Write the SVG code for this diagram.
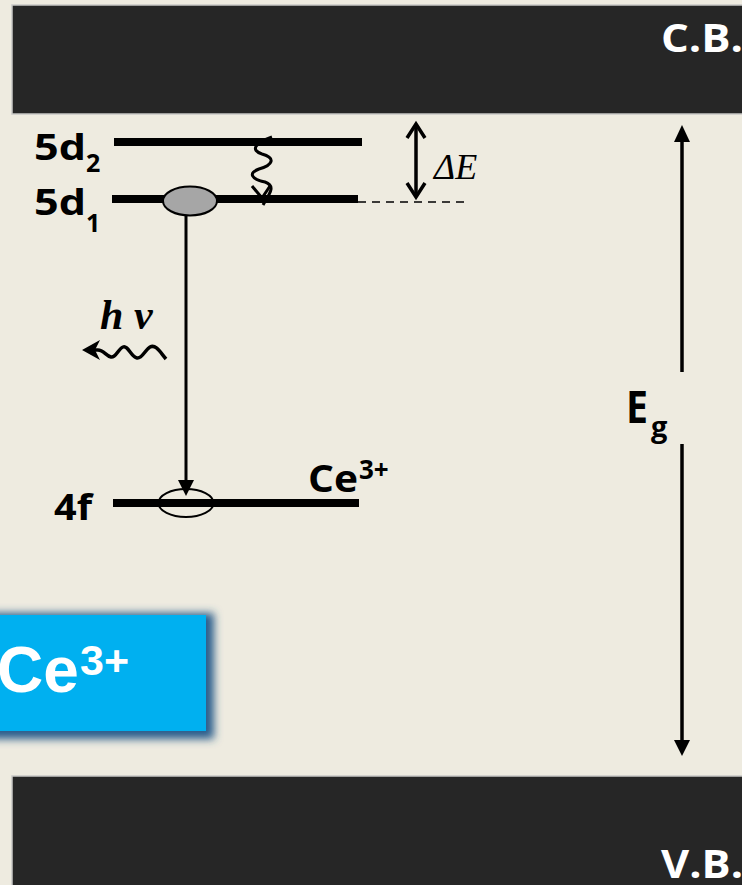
<svg xmlns="http://www.w3.org/2000/svg" width="742" height="885" viewBox="0 0 742 885">
<style>
.band{fill:#262626;stroke:#c9c9c6;stroke-width:1.5}
.bandtxt{font-family:"Open Sans","Noto Sans",sans-serif;font-weight:700;fill:#ffffff;font-size:40px}
.lvl{stroke:#000;stroke-width:8;fill:none}
.lbl{font-family:"Open Sans","Noto Sans",sans-serif;font-weight:700;fill:#000}
.ln{stroke:#000;stroke-width:3.5;fill:none}
.thin{stroke:#000;stroke-width:3;fill:none}
.serif{font-family:"Liberation Serif","DejaVu Serif",serif;font-style:italic;fill:#000}
</style>
<defs>
<filter id="sh" x="-20%" y="-30%" width="150%" height="170%">
<feMorphology in="SourceAlpha" operator="dilate" radius="5" result="d"/>
<feOffset in="d" dx="3" dy="3" result="o"/>
<feGaussianBlur in="o" stdDeviation="4" result="b"/>
<feFlood flood-color="#2a5d8c" flood-opacity="1"/>
<feComposite in2="b" operator="in" result="s"/>
<feMerge><feMergeNode in="s"/><feMergeNode in="SourceGraphic"/></feMerge>
</filter>
</defs>
<rect x="0" y="0" width="742" height="885" fill="#eeebe0"/>

<g id="conduction-band">
<rect class="band" x="12" y="5" width="740" height="109"/>
<text class="bandtxt" x="661" y="52" textLength="82" lengthAdjust="spacingAndGlyphs">C.B.</text>
</g>

<g id="valence-band">
<rect class="band" x="12" y="776" width="740" height="120"/>
<text class="bandtxt" x="661" y="878" textLength="82" lengthAdjust="spacingAndGlyphs">V.B.</text>
</g>

<g id="level-5d2">
<line class="lvl" x1="114" y1="142" x2="362" y2="142"/>
<text class="lbl" x="34" y="160" font-size="35" textLength="52" lengthAdjust="spacingAndGlyphs">5d</text>
<text class="lbl" x="86" y="172" font-size="25">2</text>
</g>

<g id="level-5d1">
<line class="lvl" x1="112" y1="199" x2="358" y2="199"/>
<line x1="358" y1="202" x2="470" y2="202" stroke="#000" stroke-width="1.5" stroke-dasharray="8,6"/>
<ellipse cx="190" cy="201" rx="27" ry="14.5" fill="#a6a6a6" stroke="#000" stroke-width="2"/>
<text class="lbl" x="34" y="215" font-size="35" textLength="52" lengthAdjust="spacingAndGlyphs">5d</text>
<text class="lbl" x="86" y="232" font-size="25">1</text>
</g>

<g id="level-4f">
<line class="lvl" x1="113" y1="503" x2="359" y2="503"/>
<ellipse cx="186" cy="503" rx="27.5" ry="14" fill="none" stroke="#000" stroke-width="2"/>
<text class="lbl" x="54" y="520" font-size="35" textLength="38" lengthAdjust="spacingAndGlyphs">4f</text>
<text class="lbl" x="308" y="492" font-size="37" textLength="50" lengthAdjust="spacingAndGlyphs">Ce</text>
<text class="lbl" x="359" y="479" font-size="26">3+</text>
</g>

<g id="ce-box">
<rect x="-20" y="615" width="226" height="116" fill="#00b0f0" filter="url(#sh)"/>
<text x="-3" y="692" font-family="'Liberation Sans',Arial,sans-serif" font-weight="700" font-size="64" fill="#fff">Ce</text>
<text x="80" y="675" font-family="'Liberation Sans',Arial,sans-serif" font-weight="700" font-size="43" fill="#fff">3+</text>
</g>

<g id="eg-label">
<text class="lbl" x="626" y="423" font-size="45" textLength="22" lengthAdjust="spacingAndGlyphs">E</text>
<text class="lbl" x="651" y="437" font-size="29">g</text>
</g>

<g id="hv-label">
<text class="serif" x="100" y="329" font-size="42" font-weight="700">h</text>
<text class="serif" x="134" y="329" font-size="42" font-weight="700">ν</text>
</g>

<g id="de-label">
<text class="serif" x="434" y="179" font-size="36">ΔE</text>
</g>

<g id="connectors">
<!-- emission 5d1 -> 4f -->
<line class="thin" x1="186" y1="215" x2="186" y2="482"/>
<polygon points="178,480 194,480 186,496" fill="#000"/>
<!-- nonradiative 5d2 -> 5d1 -->
<path class="thin" d="M272,137 C255,143 250,150 262,154 C276,158 273,165 259,169 C248,173 251,179 265,182 C276,186 270,193 263,205"/>
<polyline class="thin" points="252,186 262,198 270,186"/>
<!-- hv photon -->
<path class="ln" d="M166,359 C160,352 156,344 150,347 C145,350 142,359 137,358 C131,357 128,345 123,347 C118,349 116,358 111,357 C106,356 103,349 97,350 L86,350"/>
<polygon points="82,350 100,340 95,350 100,360" fill="#000"/>
<!-- delta E double arrow -->
<line class="ln" x1="416" y1="125" x2="416" y2="196"/>
<polyline class="ln" points="407,138 416,124 425,138"/>
<polyline class="ln" points="407,183 416,197 425,183"/>
<!-- band gap arrow -->
<line class="ln" x1="682" y1="140" x2="682" y2="372"/>
<polygon points="674,142 690,142 682,125" fill="#000"/>
<line class="ln" x1="682" y1="444" x2="682" y2="742"/>
<polygon points="674,740 690,740 682,756" fill="#000"/>
</g>
</svg>
